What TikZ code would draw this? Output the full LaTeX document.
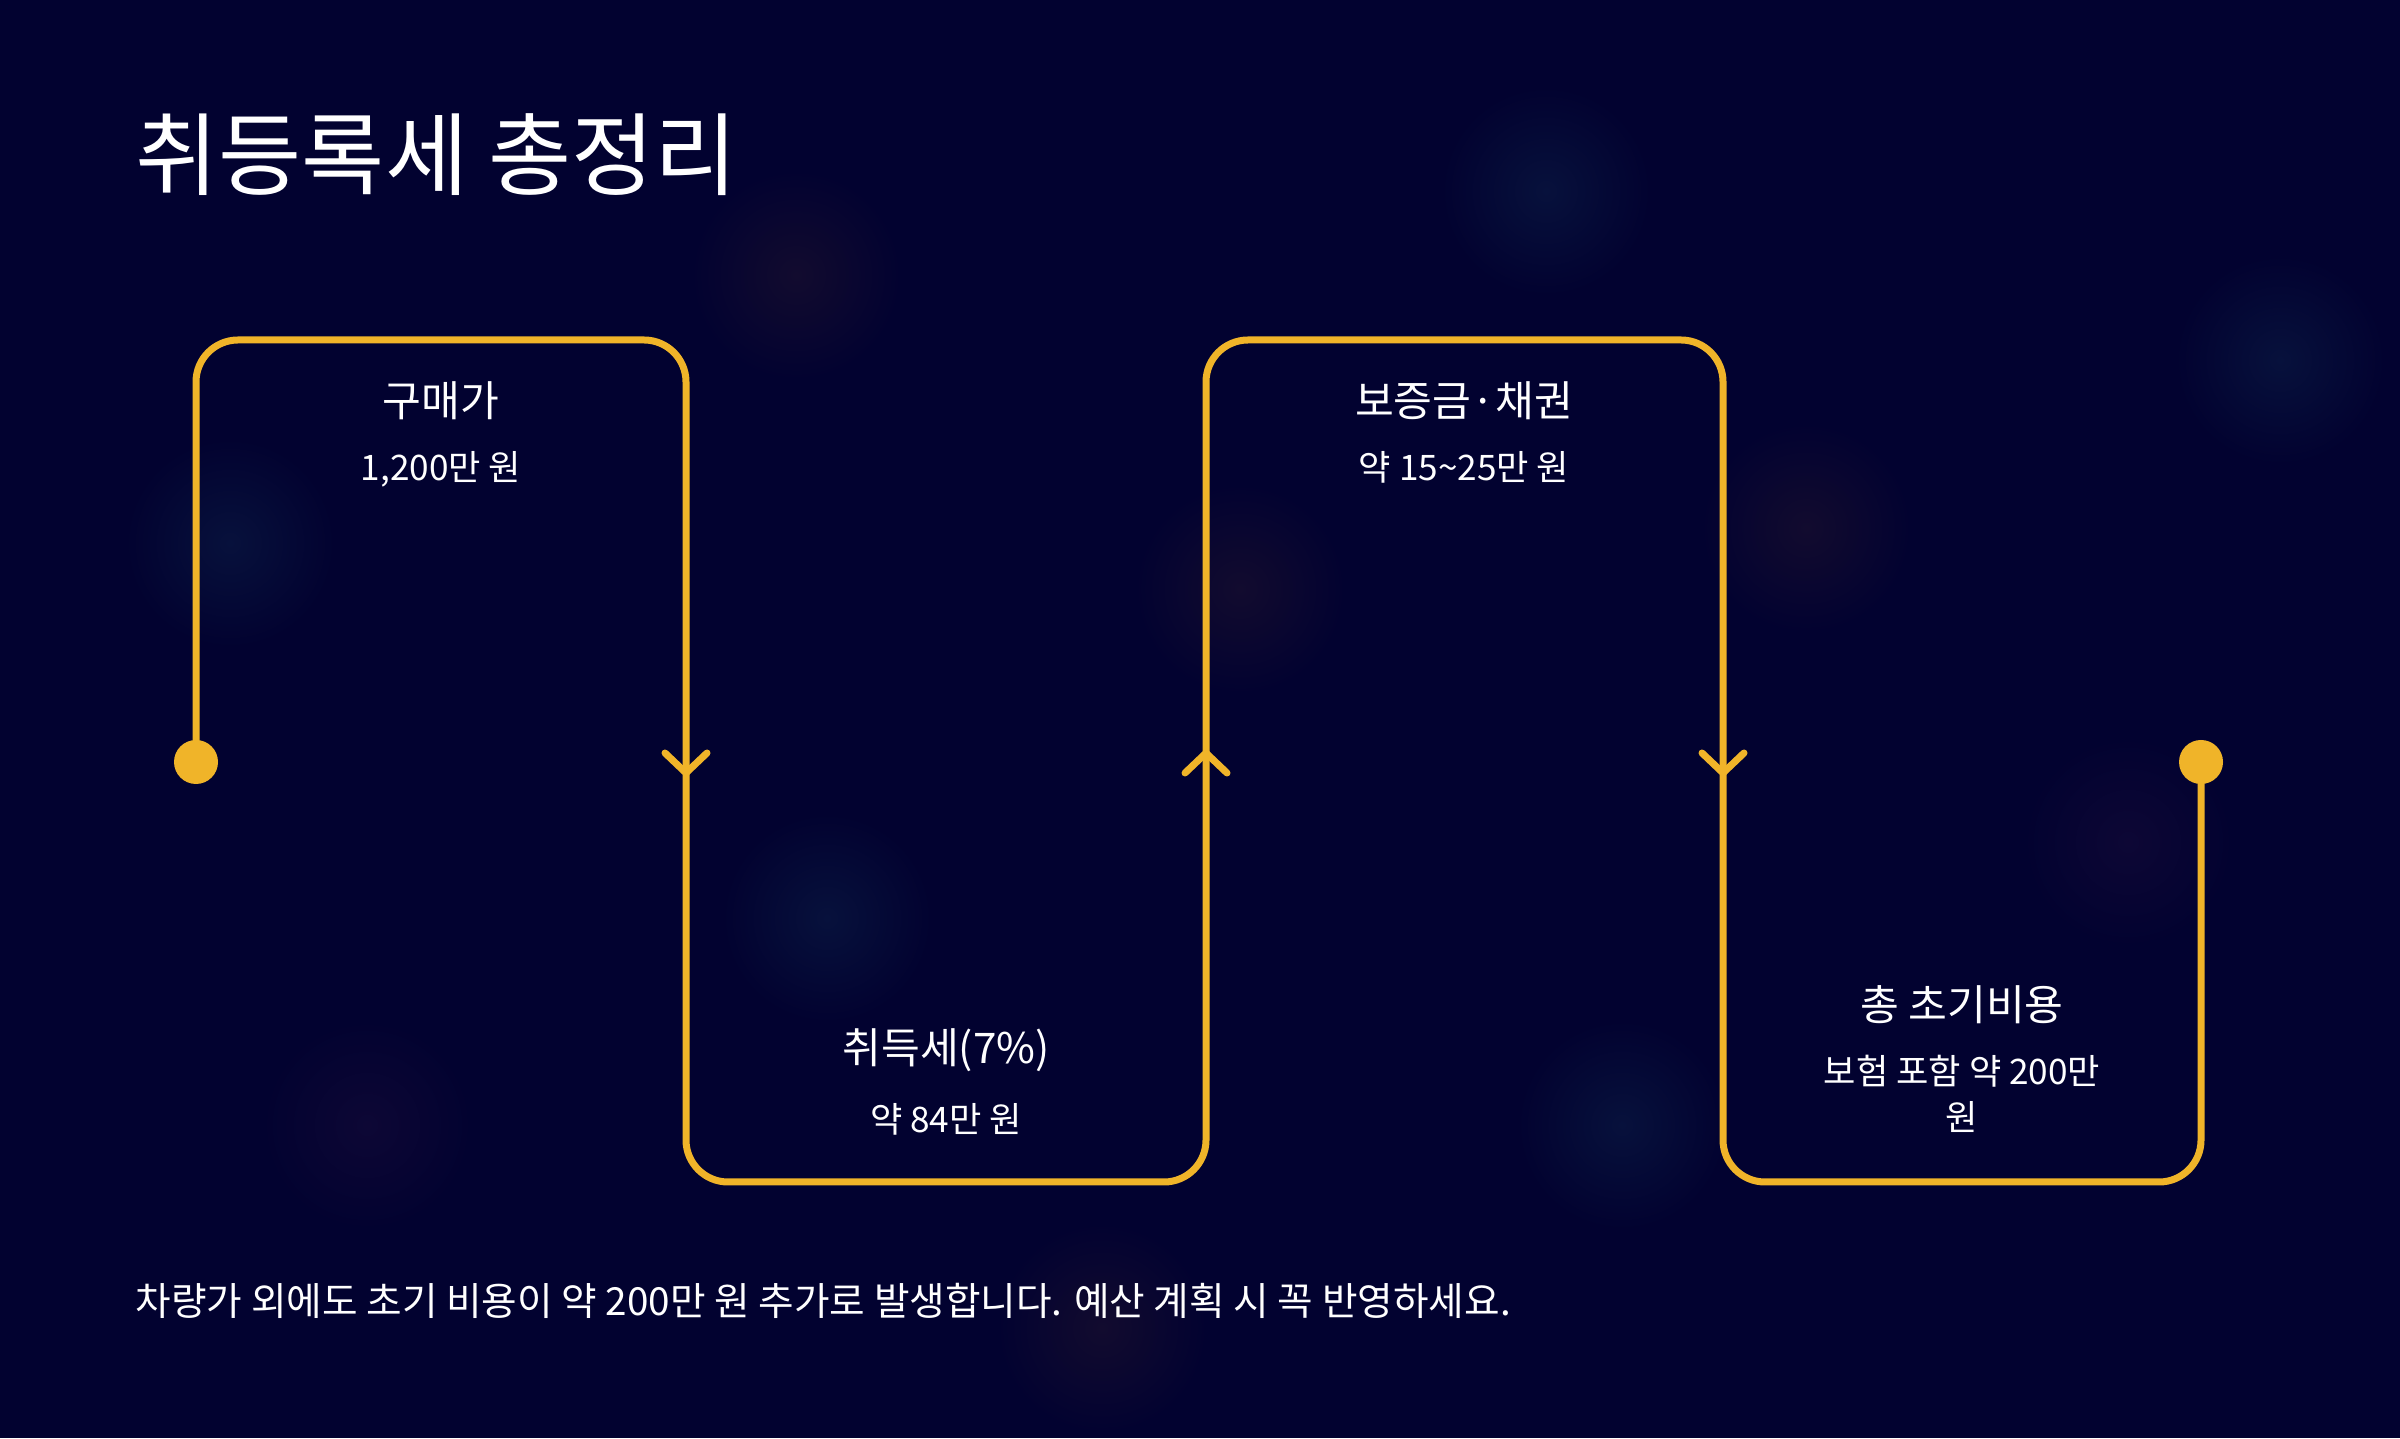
\documentclass[tikz,border=0pt]{standalone}
\usepackage{fontspec}
\setmainfont{Noto Sans CJK KR}
\usepackage{xcolor}
\usepackage{tikz}
\usetikzlibrary{calc,positioning}
\definecolor{nightbg}{HTML}{020230}
\definecolor{amber}{HTML}{F0B429}
\definecolor{glowblue}{HTML}{07113C}
\definecolor{glowplum}{HTML}{0D0735}
\definecolor{glowrust}{HTML}{120B2F}
\newcommand{\chev}[2]{\draw[trail] ($(#1)+(-0.21,#2)$) -- (#1) -- ($(#1)+(0.21,#2)$);}
\tikzset{trail/.style={amber,line width=0.07cm,line cap=round,line join=round},
  dot/.style={circle,fill=amber,inner sep=0pt,minimum size=0.44cm},
  head/.style={white,inner sep=0pt,font=\fontsize{12}{14}\selectfont},
  val/.style={white,inner sep=0pt,align=center,font=\fontsize{10}{13}\selectfont}}

\begin{document}
\begin{tikzpicture}[node distance=0.3cm]
\useasboundingbox (0,0) rectangle (24,14.38);
\fill[nightbg] (0,0) rectangle (24,14.38);
\foreach \gx/\gy/\gc in {2.30/8.95/glowblue, 8.27/5.20/glowblue, 3.67/3.13/glowplum, 12.40/8.49/glowrust,
  16.22/3.13/glowblue, 18.06/9.10/glowrust, 22.80/10.78/glowblue, 15.46/12.47/glowblue,
  7.96/11.63/glowrust, 21.28/5.96/glowplum, 11.02/1.10/glowrust}
  \shade[inner color=\gc,outer color=nightbg] (\gx,\gy) circle (1.05);
\node[white,anchor=west,inner sep=0pt,font=\fontsize{25.7}{30}\selectfont] (title) at (1.35,12.83) {취등록세 총정리};
\coordinate (c1) at (1.96,10.98); \coordinate (c2) at (6.86,10.98); \coordinate (c3) at (6.86,2.56);
\coordinate (c4) at (12.06,2.56); \coordinate (c5) at (12.06,10.98); \coordinate (c6) at (17.23,10.98);
\coordinate (c7) at (17.23,2.56); \coordinate (c8) at (22.01,2.56);
\node[dot] (start) at (1.96,6.76) {}; \node[dot] (end) at (22.01,6.76) {};
\draw[trail,rounded corners=0.42cm] (start.center) -- (c1) -- (c2) -- (c3) -- (c4) -- (c5) -- (c6) -- (c7) -- (c8) -- (end.center);
\coordinate (a1) at (6.86,6.65); \coordinate (a2) at (12.06,6.85); \coordinate (a3) at (17.23,6.65);
\chev{a1}{0.2}
\chev{a2}{-0.2}
\chev{a3}{0.2}
\node[head] (buy) at (4.41,10.37) {구매가}; \node[val,below=of buy] (buyv) {1,200만 원};
\node[val] (taxv) at (9.46,3.19) {약 84만 원}; \node[head,above=of taxv] (tax) {취득세(7\%)};
\node[head] (bond) at (14.64,10.37) {보증금·채권}; \node[val,below=of bond] (bondv) {약 15\textasciitilde 25만 원};
\node[val] (totv) at (19.62,3.44) {보험 포함 약 200만\\원}; \node[head,above=of totv] (tot) {총 초기비용};
\node[white,anchor=west,inner sep=0pt,font=\fontsize{11}{13}\selectfont] (note) at (1.35,1.37) {차량가 외에도 초기 비용이 약 200만 원 추가로 발생합니다. 예산 계획 시 꼭 반영하세요.};
\end{tikzpicture}
\end{document}
